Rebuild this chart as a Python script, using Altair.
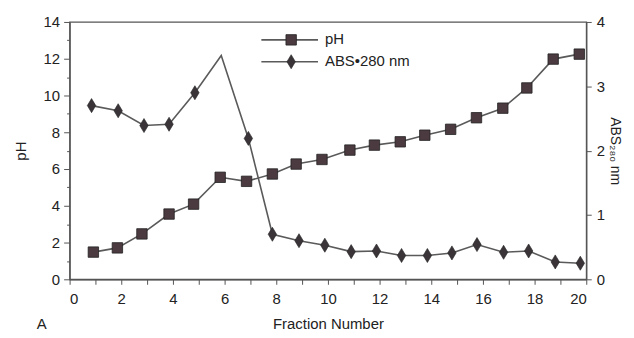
import altair as alt
import pandas as pd

# fraction numbers and their plotted positions
n = list(range(1, 21))
ph_x = [0.92, 1.85, 2.8, 3.85, 4.8, 5.83, 6.85, 7.85, 8.77, 9.77,
        10.85, 11.8, 12.8, 13.75, 14.75, 15.75, 16.77, 17.7, 18.72, 19.73]
ph = [1.48, 1.71, 2.47, 3.55, 4.09, 5.55, 5.33, 5.73, 6.27, 6.52,
      7.03, 7.3, 7.48, 7.84, 8.16, 8.79, 9.31, 10.41, 11.98, 12.25]
abs_x = [0.85, 1.88, 2.88, 3.85, 4.85, 5.87, 6.92, 7.85, 8.88, 9.88,
         10.9, 11.88, 12.85, 13.85, 14.8, 15.77, 16.8, 17.77, 18.8, 19.77]
abs280 = [2.70, 2.62, 2.39, 2.41, 2.90, 3.48, 2.19, 0.70, 0.60, 0.53,
          0.43, 0.44, 0.37, 0.37, 0.41, 0.54, 0.42, 0.44, 0.27, 0.25]

x_ticks = list(range(0, 21))
ph_ticks = [i * 0.5 for i in range(0, 29)]
abs_ticks = [0, 1, 2, 3, 4]

df_ph = pd.DataFrame({"n": n, "x": ph_x, "ph": ph})
df_abs = pd.DataFrame({"n": n, "x": abs_x, "abs": abs280})

FONT = "Liberation Sans"
TXT = "#222222"
LINE = "#5a5a5a"
SQ_FILL = "#4b3a40"
DIAMOND = "M0,-1L0.6,0L0,1L-0.6,0Z"
FS = 15

x_enc = alt.X("x:Q", scale=alt.Scale(domain=[0, 20], nice=False),
              axis=alt.Axis(values=x_ticks, title="Fraction Number", format="d",
                            labelExpr="datum.value % 2 == 0 ? datum.label : ''",
                            tickSize=5, labelPadding=7, titlePadding=11,
                            grid=False))

y_ph = alt.Y("ph:Q", scale=alt.Scale(domain=[0, 14], nice=False),
             axis=alt.Axis(orient="left", values=ph_ticks, title="pH", format="d",
                           labelExpr="datum.value % 2 == 0 ? datum.label : ''",
                           tickSize={"condition": {"test": "datum.value % 2 == 0", "value": 6}, "value": 3},
                           labelPadding=4, titlePadding=15, grid=False))

y_abs = alt.Y("abs:Q", scale=alt.Scale(domain=[0, 4], nice=False),
              axis=alt.Axis(orient="right", values=abs_ticks, title="ABS₂₈₀ nm", format="d",
                            tickSize=5, labelPadding=5, titlePadding=3, titleFontSize=14,
                            grid=False))

ph_line = alt.Chart(df_ph).mark_line(color=LINE, strokeWidth=1.6).encode(x=x_enc, y=y_ph)
ph_pts = alt.Chart(df_ph).mark_point(shape="square", filled=True, size=110,
                                     fill=SQ_FILL, stroke="#222", strokeWidth=0.8,
                                     opacity=1).encode(x=x_enc, y=y_ph)
ph_layer = alt.layer(ph_line, ph_pts)

abs_line = alt.Chart(df_abs).mark_line(color=LINE, strokeWidth=1.6).encode(x=x_enc, y=y_abs)
abs_pts = alt.Chart(df_abs).transform_filter("datum.n != 6").mark_point(
    shape=DIAMOND, filled=True, size=200, fill="#3a3438", stroke="#222",
    strokeWidth=0.6, opacity=1).encode(x=x_enc, y=y_abs)
abs_layer = alt.layer(abs_line, abs_pts)

# manual legend (pixel positions within the plot area)
leg_df = pd.DataFrame({"d": [0]})
base = alt.Chart(leg_df)
leg = alt.layer(
    base.mark_rule(color=LINE, strokeWidth=1.6).encode(x=alt.value(193), x2=alt.value(250), y=alt.value(18)),
    base.mark_rule(color=LINE, strokeWidth=1.6).encode(x=alt.value(193), x2=alt.value(250), y=alt.value(40)),
    base.mark_point(shape="square", filled=True, size=110, fill=SQ_FILL, stroke="#222",
                    strokeWidth=0.8, opacity=1).encode(x=alt.value(223), y=alt.value(18)),
    base.mark_point(shape=DIAMOND, filled=True, size=200, fill="#3a3438", stroke="#222",
                    strokeWidth=0.6, opacity=1).encode(x=alt.value(223), y=alt.value(40)),
    base.mark_text(align="left", baseline="middle", font=FONT, fontSize=FS, color=TXT).encode(
        x=alt.value(257), y=alt.value(17), text=alt.value("pH")),
    base.mark_text(align="left", baseline="middle", font=FONT, fontSize=FS, color=TXT).encode(
        x=alt.value(257), y=alt.value(39), text=alt.value("ABS•280 nm")),
    base.mark_text(align="center", baseline="middle", font=FONT, fontSize=FS, color=TXT).encode(
        x=alt.value(-28), y=alt.value(304), text=alt.value("A")),
)

chart = alt.layer(ph_layer, abs_layer, leg).resolve_scale(y="independent").properties(
    width=520, height=259,
    autosize=alt.AutoSizeParams(type="none"),
    padding={"left": 62, "top": 13, "right": 40, "bottom": 56},
    background="white",
).configure_view(stroke="#555", strokeWidth=1.3).configure_axis(
    labelFont=FONT, titleFont=FONT, labelFontSize=FS, titleFontSize=FS,
    labelColor=TXT, titleColor=TXT, titleFontWeight="normal",
    domainColor="#555", tickColor="#555", domainWidth=1.3,
)

chart.save("out.html", embed_options={"renderer": "svg", "actions": False})
